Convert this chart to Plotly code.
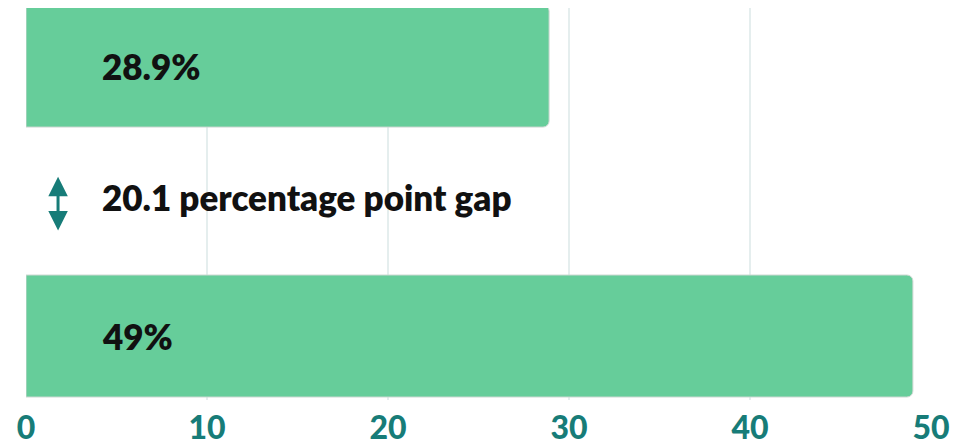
import plotly.graph_objects as go

categories = ["Group A", "Group B"]
values = [28.9, 49]
value_labels = ["28.9%", "49%"]
tick_vals = [0, 10, 20, 30, 40, 50]
tick_text = ["0", "10", "20", "30", "40", "50"]
gap = round(values[1] - values[0], 1)
gap_label = f"{gap} percentage point gap"

ypos = list(range(len(categories)))
BAR = "#66CD9A"
TEAL = "#177C78"
FONT = "Lato, 'Open Sans', sans-serif"

fig = go.Figure()
fig.add_trace(go.Bar(
    x=values, y=ypos, orientation="h",
    marker=dict(color=BAR, line=dict(color="#cfd8d3", width=1)),
    width=0.452, hoverinfo="skip",
))

annotations = []
for yv, lab in zip(ypos, value_labels):
    annotations.append(dict(
        x=4.1, y=yv, xref="x", yref="y", text=lab,
        showarrow=False, xanchor="left", yanchor="middle",
        font=dict(family=FONT, size=35, color="#111111", weight=800),
    ))

# double-headed gap arrow
annotations.append(dict(
    x=1.77, y=0.41, ax=1.77, ay=0.615, xref="x", yref="y", axref="x", ayref="y",
    text="", showarrow=True, arrowhead=2, startarrowhead=2, arrowside="end+start",
    arrowsize=1.3, startarrowsize=1.3, arrowwidth=3, arrowcolor=TEAL,
))
annotations.append(dict(
    x=4.1, y=0.485, xref="x", yref="y", text=gap_label,
    showarrow=False, xanchor="left", yanchor="middle",
    font=dict(family=FONT, size=35, color="#111111", weight=800),
))

# page body has an 8px default margin, so the figure is sized to fit the window
fig.update_layout(
    width=963, height=438,
    margin=dict(l=18, r=40, t=0, b=46),
    paper_bgcolor="white", plot_bgcolor="white",
    showlegend=False,
    barcornerradius=6,
    annotations=annotations,
    xaxis=dict(
        range=[0, 50], tickvals=tick_vals, ticktext=tick_text,
        showgrid=True, gridcolor="#e5eeee", gridwidth=1.5,
        zeroline=False, showline=False, ticks="", automargin=False,
        ticklabelstandoff=6,
        tickfont=dict(family=FONT, size=32, color=TEAL, weight=900),
    ),
    yaxis=dict(
        range=[1.237, -0.215], showticklabels=False, showgrid=False,
        zeroline=False, showline=False, automargin=False,
    ),
)

fig.write_html("out.html")
